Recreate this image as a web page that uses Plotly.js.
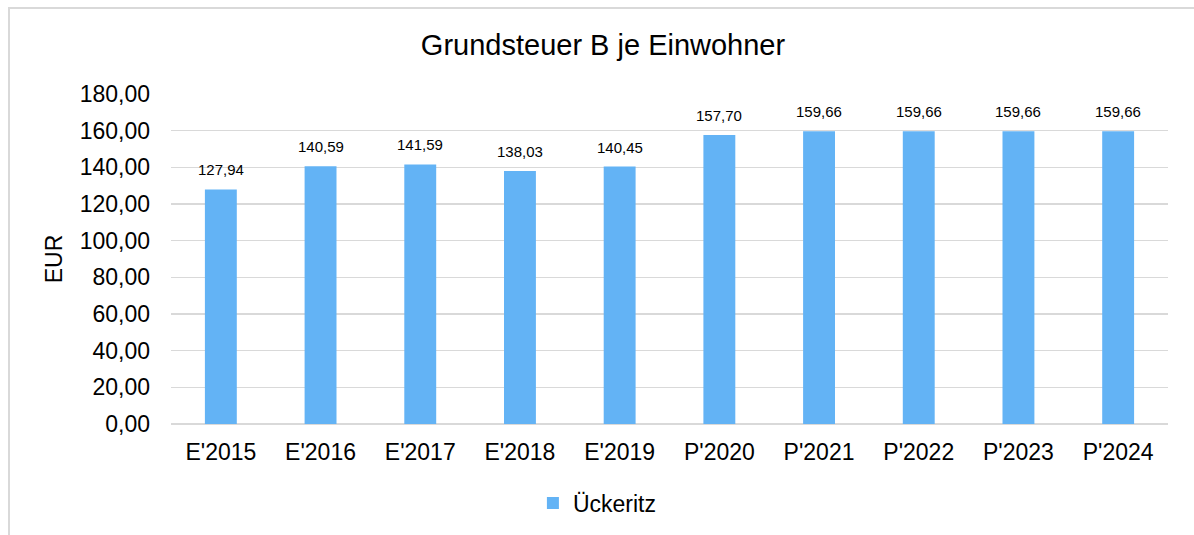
<!DOCTYPE html>
<html>
<head>
<meta charset="utf-8">
<script src="https://cdn.plot.ly/plotly-3.0.1.min.js"></script>
<style>
html, body { margin: 0; padding: 0; overflow: hidden; background: #fff; }
#chart { width: 1194px; height: 535px; }
#frame { position: absolute; left: 8px; top: 7px; width: 1400px; height: 700px;
  border-left: 2px solid #d9d9d9; border-top: 2px solid #d9d9d9; pointer-events: none; }
</style>
</head>
<body>
<div id="chart"></div>
<div id="frame"></div>
<script>
const categories = ["E'2015", "E'2016", "E'2017", "E'2018", "E'2019", "P'2020", "P'2021", "P'2022", "P'2023", "P'2024"];
const values = [127.94, 140.59, 141.59, 138.03, 140.45, 157.70, 159.66, 159.66, 159.66, 159.66];
const seriesName = "Ückeritz";
const yTicks = [0, 20, 40, 60, 80, 100, 120, 140, 160, 180];

const font = "Liberation Sans, Arial, Helvetica, sans-serif";

const trace = {
  type: 'bar',
  x: categories,
  y: values,
  name: seriesName,
  marker: { color: '#63b3f5' },
  showlegend: true,
  hoverinfo: 'x+y'
};

const annotations = categories.map((c, i) => ({
  x: c, y: values[i], xref: 'x', yref: 'y',
  text: values[i].toFixed(2).replace('.', ','),
  showarrow: false, yanchor: 'bottom', yshift: 9,
  font: { family: font, size: 15, color: '#000' }
}));

const layout = {
  width: 1194, height: 535,
  margin: { l: 171, r: 26, t: 94, b: 110 },
  paper_bgcolor: '#fff', plot_bgcolor: '#fff',
  separators: ',.',
  font: { family: font, color: '#000' },
  title: { text: 'Grundsteuer B je Einwohner', font: { family: font, size: 29, color: '#000' },
           x: 603/1194, xanchor: 'center', y: 1 - 45/535, yanchor: 'middle', xref: 'container', yref: 'container' },
  bargap: 0.68,
  xaxis: {
    type: 'category', tickfont: { family: font, size: 23, color: '#000' },
    showgrid: false, showline: false, zeroline: false, ticks: '', ticklabelstandoff: 12
  },
  yaxis: {
    range: [0, 180], tickvals: yTicks, tickformat: '.2f',
    tickfont: { family: font, size: 23, color: '#000' },
    gridcolor: '#d9d9d9', gridwidth: 1.5, zeroline: true, zerolinecolor: '#d9d9d9', zerolinewidth: 1.5,
    showline: false, ticks: '', ticklabelstandoff: 20,
    title: { text: 'EUR', font: { family: font, size: 23, color: '#000' }, standoff: 10 }
  },
  legend: {
    orientation: 'h', x: 0.363, xanchor: 'left', y: -0.2356, yanchor: 'middle',
    font: { family: font, size: 23, color: '#000' }, itemwidth: 30
  },
  annotations: annotations
};

Plotly.newPlot('chart', [trace], layout, { displayModeBar: false, staticPlot: true });
</script>
</body>
</html>
